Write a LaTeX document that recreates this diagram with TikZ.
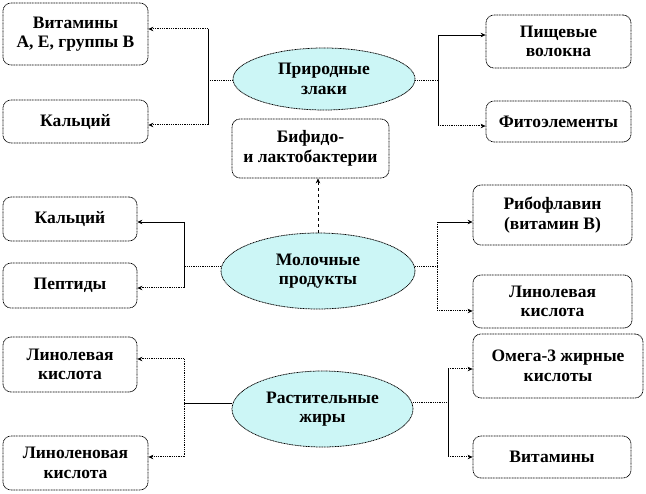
\documentclass[tikz,border=0pt]{standalone}
\usepackage{fontspec}
\setmainfont{Liberation Serif}
\usetikzlibrary{shapes.geometric, arrows.meta, positioning}
\usepackage{xcolor}
\definecolor{foodfill}{RGB}{204, 246, 246}

\begin{document}
\begin{tikzpicture}[x=1pt, y=-1pt,
    item/.style={rectangle, draw=black, line width=0.75pt, dash pattern=on 1pt off 0.6pt, rounded corners=8pt, align=center, inner sep=0pt, font=\fontsize{17.5}{19.5}\selectfont\bfseries},
    food/.style={ellipse, draw=black, line width=0.75pt, dash pattern=on 1pt off 0.6pt, fill=foodfill, align=center, inner sep=0pt, font=\fontsize{17.5}{19.5}\selectfont\bfseries},
    link/.style={dash pattern=on 1pt off 0.8pt, line width=1pt},
    trunk/.style={line width=0.8pt},
    arrow/.style={-{Stealth[length=5pt, width=4.5pt]}}
]
\useasboundingbox (0,0) rectangle (646,494);

% products
\node[food, minimum width=182pt, minimum height=62pt] (grain) at (324,79) {Природные\\злаки};
\node[food, minimum width=194pt, minimum height=76pt] (milk) at (318,271) {Молочные\\продукты};
\node[food, minimum width=181pt, minimum height=76pt] (oil) at (322.5,409) {Растительные\\жиры};

% nutrients
\node[item, minimum width=145pt, minimum height=62pt] (vitA) at (75.5,34) {Витамины\\А, Е, группы В};
\node[item, minimum width=145pt, minimum height=43pt] (caA) at (75.5,121.5) {Кальций};
\node[item, minimum width=145pt, minimum height=53pt] (fiber) at (558.5,41.5) {Пищевые\\волокна};
\node[item, minimum width=145pt, minimum height=41pt] (phyto) at (558.5,121.5) {Фитоэлементы};
\node[item, minimum width=157pt, minimum height=59pt] (bifido) at (310.5,148.5) {Бифидо-\\и лактобактерии};
\node[item, minimum width=134pt, minimum height=44pt] (caB) at (70,219) {Кальций};
\node[item, minimum width=134pt, minimum height=45pt] (pept) at (70,285.5) {Пептиды};
\node[item, minimum width=159pt, minimum height=60pt] (ribo) at (552.5,215) {Рибофлавин\\(витамин В)};
\node[item, minimum width=159pt, minimum height=53pt] (linB) at (552.5,301.5) {Линолевая\\кислота};
\node[item, minimum width=134pt, minimum height=55pt] (linC) at (70,364.5) {Линолевая\\кислота};
\node[item, minimum width=145pt, minimum height=54pt] (linolen) at (75.5,463) {Линоленовая\\кислота};
\node[item, minimum width=170pt, minimum height=64pt] (omega) at (558,366) {Омега-3 жирные\\кислоты};
\node[item, minimum width=158pt, minimum height=42pt] (vitC) at (552,457) {Витамины};

% branch points
\coordinate (gl) at (208,81);  \coordinate (gl1) at (208,29);  \coordinate (gl2) at (208,125);
\coordinate (gr) at (438,81);  \coordinate (gr1) at (438,35);  \coordinate (gr2) at (438,126);
\coordinate (ml) at (184,267); \coordinate (ml1) at (184,222); \coordinate (ml2) at (184,288);
\coordinate (mr) at (437,267); \coordinate (mr1) at (437,222); \coordinate (mr2) at (437,311);
\coordinate (ol) at (184,403); \coordinate (ol1) at (184,359); \coordinate (ol2) at (184,457);
\coordinate (or) at (448,403); \coordinate (or1) at (448,369); \coordinate (or2) at (448,457);

% cereals
\draw[link] (grain.west |- gl) -- (gl);
\draw[trunk] (gl1) -- (gl2);
\draw[link, arrow] (gl1) -- (vitA.east |- gl1);
\draw[link, arrow] (gl2) -- (caA.east |- gl2);
\draw[link] (grain.east |- gr) -- (gr);
\draw[trunk] (gr1) -- (gr2);
\draw[trunk, arrow] (gr1) -- (fiber.west |- gr1);
\draw[link, arrow] (gr2) -- (phyto.west |- gr2);

% dairy
\draw[dashed, line width=0.9pt, arrow] (milk.north) -- (bifido.south -| milk.north);
\draw[link] (milk.west |- ml) -- (ml);
\draw[trunk] (ml1) -- (ml2);
\draw[trunk, arrow] (ml1) -- (caB.east |- ml1);
\draw[link, arrow] (ml2) -- (pept.east |- ml2);
\draw[link] (milk.east |- mr) -- (mr);
\draw[link] (mr1) -- (mr2);
\draw[trunk, arrow] (mr1) -- (ribo.west |- mr1);
\draw[link, arrow] (mr2) -- (linB.west |- mr2);

% vegetable oils
\draw[trunk] (oil.west |- ol) -- (ol);
\draw[link] (ol1) -- (ol2);
\draw[link, arrow] (ol1) -- (linC.east |- ol1);
\draw[link, arrow] (ol2) -- (linolen.east |- ol2);
\draw[link] (oil.east |- or) -- (or);
\draw[trunk] (or1) -- (or2);
\draw[link, arrow] (or1) -- (omega.west |- or1);
\draw[link, arrow] (or2) -- (vitC.west |- or2);
\end{tikzpicture}
\end{document}
